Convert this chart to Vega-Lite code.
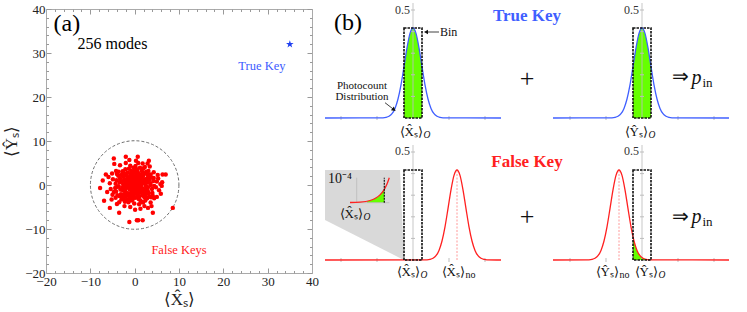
{
  "$schema": "https://vega.github.io/schema/vega-lite/v6.json",
  "background": "white",
  "padding": {"left": 2, "top": 2, "right": 0, "bottom": 0},
  "spacing": 13,
  "bounds": "flush",
  "config": {"view": {"stroke": null}, "text": {"font": "Liberation Serif"}, "axis": {"labelFont": "Liberation Serif", "titleFont": "Liberation Serif"}},
  "datasets": {
    "keys": [
      {"x":0.2,"y":0.3},{"x":-0.5,"y":0.8},{"x":1.1,"y":-0.4},{"x":-1.2,"y":-0.6},{"x":0.6,"y":1.2},{"x":-0.3,"y":-1.1},{"x":0.9,"y":0.7},{"x":-0.8,"y":0.1},{"x":0.1,"y":-0.5},{"x":1.3,"y":0.2},
      {"x":-0.1,"y":1.4},{"x":0.5,"y":-1.2},{"x":-1.4,"y":0.4},{"x":0,"y":0},{"x":0.7,"y":-0.2},{"x":-0.6,"y":-0.3},{"x":0.3,"y":0.9},{"x":-0.9,"y":1.0},{"x":1.0,"y":-1.0},{"x":-0.4,"y":0.5},
      {"x":0.4,"y":-0.8},{"x":-1.1,"y":-1.0},{"x":1.2,"y":1.0},{"x":-0.2,"y":-0.2},{"x":0.8,"y":0.3},{"x":-0.7,"y":-1.3},{"x":0.1,"y":1.0},{"x":-1.3,"y":0.9},{"x":1.4,"y":-0.6},{"x":0.6,"y":0.6},
      {"x":-0.5,"y":-0.7},{"x":0.2,"y":-1.4},{"x":-1.0,"y":0.6},{"x":1.0,"y":1.3},{"x":-0.3,"y":0.2},{"x":0.5,"y":0.1},{"x":-0.8,"y":-0.9},{"x":0.9,"y":-0.7},{"x":-0.1,"y":0.7},{"x":1.3,"y":-1.1},
      {"x":-1.2,"y":1.2},{"x":0.3,"y":-0.3},{"x":-0.6,"y":1.3},{"x":0.7,"y":1.0},{"x":-1.4,"y":-0.3},{"x":1.1,"y":0.5},{"x":-0.2,"y":-0.9},{"x":0,"y":1.2},{"x":0.4,"y":0.4},{"x":-0.9,"y":-0.1},
      {"x":2.0,"y":0.5},{"x":-2.1,"y":0.3},{"x":0.4,"y":2.2},{"x":-0.3,"y":-2.4},{"x":1.6,"y":1.6},{"x":-1.7,"y":1.5},{"x":1.8,"y":-1.4},{"x":-1.5,"y":-1.9},{"x":2.6,"y":-0.3},{"x":-2.7,"y":-0.5},
      {"x":0.8,"y":2.7},{"x":-0.9,"y":2.5},{"x":1.1,"y":-2.6},{"x":-1.0,"y":-2.8},{"x":2.3,"y":1.3},{"x":-2.4,"y":1.1},{"x":2.2,"y":-1.7},{"x":-2.0,"y":-1.6},{"x":0,"y":2.9},{"x":0.2,"y":-2.9},
      {"x":2.9,"y":0.6},{"x":-2.9,"y":0.8},{"x":1.9,"y":2.1},{"x":-1.8,"y":2.2},{"x":1.7,"y":-2.3},{"x":-2.2,"y":-2.0},{"x":2.5,"y":-1.0},{"x":-2.6,"y":-1.2},{"x":1.3,"y":2.4},{"x":-1.4,"y":-2.4},
      {"x":2.8,"y":1.5},{"x":-2.5,"y":1.8},{"x":2.0,"y":-2.4},{"x":-1.9,"y":-2.5},{"x":1.5,"y":0},{"x":-1.6,"y":0.1},{"x":0.6,"y":1.8},{"x":-0.7,"y":-1.7},{"x":1.9,"y":-0.8},{"x":-1.8,"y":-0.6},
      {"x":1.2,"y":1.9},{"x":-1.1,"y":1.8},{"x":0.9,"y":-1.8},{"x":-0.6,"y":2.0},{"x":2.4,"y":0.1},{"x":-2.3,"y":-0.2},{"x":1.6,"y":-1.0},{"x":-1.5,"y":1.0},{"x":0.3,"y":1.7},{"x":-0.2,"y":-1.8},
      {"x":2.1,"y":2.5},{"x":-2.8,"y":2.1},{"x":2.7,"y":-1.9},{"x":-2.7,"y":-2.2},{"x":0.5,"y":-2.1},{"x":-0.4,"y":2.6},{"x":1.4,"y":-1.6},{"x":-1.3,"y":1.6},{"x":2.2,"y":0.9},{"x":-2.1,"y":-0.9},
      {"x":1.0,"y":2.2},{"x":-1.2,"y":-2.1},{"x":2.5,"y":-2.6},{"x":-0.8,"y":-2.5},{"x":0.7,"y":-2.6},{"x":-2.3,"y":2.6},{"x":1.8,"y":2.8},{"x":-1.6,"y":2.8},{"x":2.9,"y":-1.2},{"x":-3.0,"y":-1.0},
      {"x":1.7,"y":0.7},{"x":-1.9,"y":0.7},{"x":0.1,"y":-1.6},{"x":-0.1,"y":2.0},{"x":2.6,"y":0.9},{"x":-2.6,"y":0.2},{"x":1.1,"y":-1.4},{"x":-1.0,"y":1.4},{"x":0.8,"y":-1.5},{"x":-0.5,"y":1.6},
      {"x":3.5,"y":0.4},{"x":-3.4,"y":0.6},{"x":0.5,"y":3.6},{"x":-0.6,"y":-3.5},{"x":3.1,"y":2.0},{"x":-3.0,"y":2.3},{"x":3.2,"y":-1.8},{"x":-3.1,"y":-2.1},{"x":3.9,"y":-0.9},{"x":-3.8,"y":-0.4},
      {"x":1.2,"y":3.9},{"x":-1.3,"y":3.7},{"x":1.5,"y":-3.8},{"x":-1.4,"y":-3.9},{"x":2.6,"y":3.0},{"x":-2.7,"y":3.1},{"x":2.8,"y":-3.0},{"x":-2.6,"y":-3.2},{"x":4.2,"y":0.9},{"x":-4.1,"y":1.1},
      {"x":0.2,"y":4.3},{"x":-0.1,"y":-4.2},{"x":3.6,"y":2.4},{"x":-3.7,"y":2.1},{"x":3.4,"y":-2.6},{"x":-3.5,"y":-2.5},{"x":4.0,"y":-1.8},{"x":-4.2,"y":-1.5},{"x":2.0,"y":3.8},{"x":-2.1,"y":3.6},
      {"x":1.9,"y":-4.0},{"x":-2.2,"y":-3.8},{"x":3.3,"y":1.2},{"x":-3.3,"y":1.4},{"x":3.0,"y":-0.5},{"x":-3.2,"y":-1.0},{"x":0.9,"y":-3.2},{"x":-0.8,"y":3.2},{"x":2.4,"y":-3.5},{"x":-2.5,"y":2.6},
      {"x":4.4,"y":-0.2},{"x":-4.3,"y":0.3},{"x":1.0,"y":-4.4},{"x":-1.0,"y":4.4},{"x":3.8,"y":1.7},{"x":-3.9,"y":-2.3},{"x":3.1,"y":3.2},{"x":-3.0,"y":-3.3},{"x":0.6,"y":3.1},{"x":-0.4,"y":-3.1},
      {"x":2.2,"y":-2.8},{"x":-2.4,"y":-2.9},{"x":3.7,"y":-2.8},{"x":-3.6,"y":3.0},{"x":1.6,"y":3.3},{"x":-1.7,"y":-3.3},{"x":4.3,"y":1.6},{"x":-4.4,"y":-0.7},{"x":2.9,"y":2.4},{"x":-2.9,"y":-2.6},
      {"x":0,"y":3.4},{"x":-0.3,"y":3.9},{"x":3.6,"y":0},{"x":-3.6,"y":-0.3},{"x":2.5,"y":-2.2},{"x":-1.1,"y":-3.4},{"x":1.3,"y":-3.5},{"x":4.1,"y":-2.5},{"x":-4.0,"y":2.5},{"x":2.3,"y":4.1},
      {"x":5.0,"y":0.8},{"x":-4.9,"y":1.3},{"x":0.8,"y":5.0},{"x":-1.0,"y":-5.0},{"x":4.3,"y":2.9},{"x":-4.2,"y":3.2},{"x":4.4,"y":-3.0},{"x":-4.3,"y":-2.9},{"x":5.5,"y":-1.2},{"x":-5.4,"y":-0.9},
      {"x":1.8,"y":4.9},{"x":-2.0,"y":5.0},{"x":2.2,"y":-4.8},{"x":-2.3,"y":-4.8},{"x":3.4,"y":4.2},{"x":-3.3,"y":4.5},{"x":3.6,"y":-4.0},{"x":-3.5,"y":-3.9},{"x":5.8,"y":0.2},{"x":-5.6,"y":0.4},
      {"x":0.3,"y":5.5},{"x":0.1,"y":-5.6},{"x":5.2,"y":2.3},{"x":-5.1,"y":2.6},{"x":5.0,"y":-2.7},{"x":-5.0,"y":-2.2},{"x":-4.0,"y":-4.3},{"x":2.9,"y":4.9},{"x":-1.2,"y":5.7},{"x":1.3,"y":-5.4},
      {"x":4.8,"y":-0.5},{"x":-4.7,"y":-1.6},{"x":5.3,"y":1.5},{"x":-5.2,"y":-3.3},{"x":3.0,"y":-5.2},
      {"x":-7.8,"y":-0.7},{"x":-6.9,"y":-3.6},{"x":-5.6,"y":-5.2},{"x":-3.5,"y":-6.3},{"x":-1.2,"y":-8.4},{"x":0.5,"y":-8.0},{"x":0.8,"y":-8.0},{"x":1.8,"y":-8.0},{"x":8.6,"y":-5.2},{"x":7.0,"y":2.4},
      {"x":-6.5,"y":2.4},{"x":-4.7,"y":6.0},{"x":-2.0,"y":6.4},{"x":0.7,"y":6.4},{"x":3.2,"y":5.5},{"x":3.8,"y":-4.8},{"x":4.1,"y":-6.3},{"x":6.1,"y":-0.2},{"x":6.2,"y":0.6},{"x":-7.2,"y":1.0},
      {"x":-6.2,"y":-1.6},{"x":-5.9,"y":1.8},{"x":6.3,"y":2.4},{"x":5.9,"y":-2.0},{"x":-4.6,"y":4.8}
    ],
    "curves": [
      {"c":"TL","key":"True","x":0,"y":173},{"c":"TL","key":"True","x":58,"y":173.2},{"c":"TL","key":"True","x":61,"y":173.6},{"c":"TL","key":"True","x":64,"y":174.7},{"c":"TL","key":"True","x":67,"y":177.3},{"c":"TL","key":"True","x":70,"y":182.6},{"c":"TL","key":"True","x":73,"y":192.0},{"c":"TL","key":"True","x":76,"y":206.2},{"c":"TL","key":"True","x":79,"y":224.4},{"c":"TL","key":"True","x":82,"y":243.2},{"c":"TL","key":"True","x":85,"y":257.6},{"c":"TL","key":"True","x":88,"y":263},{"c":"TL","key":"True","x":91,"y":257.6},{"c":"TL","key":"True","x":94,"y":243.2},{"c":"TL","key":"True","x":97,"y":224.4},{"c":"TL","key":"True","x":100,"y":206.2},{"c":"TL","key":"True","x":103,"y":192.0},{"c":"TL","key":"True","x":106,"y":182.6},{"c":"TL","key":"True","x":109,"y":177.3},{"c":"TL","key":"True","x":112,"y":174.7},{"c":"TL","key":"True","x":115,"y":173.6},{"c":"TL","key":"True","x":118,"y":173.2},{"c":"TL","key":"True","x":176,"y":173},
      {"c":"TR","key":"True","x":228,"y":173},{"c":"TR","key":"True","x":287,"y":173.2},{"c":"TR","key":"True","x":290,"y":173.6},{"c":"TR","key":"True","x":293,"y":174.7},{"c":"TR","key":"True","x":296,"y":177.3},{"c":"TR","key":"True","x":299,"y":182.6},{"c":"TR","key":"True","x":302,"y":192.0},{"c":"TR","key":"True","x":305,"y":206.2},{"c":"TR","key":"True","x":308,"y":224.4},{"c":"TR","key":"True","x":311,"y":243.2},{"c":"TR","key":"True","x":314,"y":257.6},{"c":"TR","key":"True","x":317,"y":263},{"c":"TR","key":"True","x":320,"y":257.6},{"c":"TR","key":"True","x":323,"y":243.2},{"c":"TR","key":"True","x":326,"y":224.4},{"c":"TR","key":"True","x":329,"y":206.2},{"c":"TR","key":"True","x":332,"y":192.0},{"c":"TR","key":"True","x":335,"y":182.6},{"c":"TR","key":"True","x":338,"y":177.3},{"c":"TR","key":"True","x":341,"y":174.7},{"c":"TR","key":"True","x":344,"y":173.6},{"c":"TR","key":"True","x":347,"y":173.2},{"c":"TR","key":"True","x":404,"y":173},
      {"c":"BL","key":"False","x":0,"y":31},{"c":"BL","key":"False","x":102,"y":31.2},{"c":"BL","key":"False","x":105,"y":31.6},{"c":"BL","key":"False","x":108,"y":32.7},{"c":"BL","key":"False","x":111,"y":35.3},{"c":"BL","key":"False","x":114,"y":40.6},{"c":"BL","key":"False","x":117,"y":50.0},{"c":"BL","key":"False","x":120,"y":64.2},{"c":"BL","key":"False","x":123,"y":82.4},{"c":"BL","key":"False","x":126,"y":101.2},{"c":"BL","key":"False","x":129,"y":115.6},{"c":"BL","key":"False","x":132,"y":121},{"c":"BL","key":"False","x":135,"y":115.6},{"c":"BL","key":"False","x":138,"y":101.2},{"c":"BL","key":"False","x":141,"y":82.4},{"c":"BL","key":"False","x":144,"y":64.2},{"c":"BL","key":"False","x":147,"y":50.0},{"c":"BL","key":"False","x":150,"y":40.6},{"c":"BL","key":"False","x":153,"y":35.3},{"c":"BL","key":"False","x":156,"y":32.7},{"c":"BL","key":"False","x":159,"y":31.6},{"c":"BL","key":"False","x":162,"y":31.2},{"c":"BL","key":"False","x":176,"y":31},
      {"c":"BR","key":"False","x":228,"y":31},{"c":"BR","key":"False","x":264,"y":31.2},{"c":"BR","key":"False","x":267,"y":31.6},{"c":"BR","key":"False","x":270,"y":32.7},{"c":"BR","key":"False","x":273,"y":35.3},{"c":"BR","key":"False","x":276,"y":40.6},{"c":"BR","key":"False","x":279,"y":50.0},{"c":"BR","key":"False","x":282,"y":64.2},{"c":"BR","key":"False","x":285,"y":82.4},{"c":"BR","key":"False","x":288,"y":101.2},{"c":"BR","key":"False","x":291,"y":115.6},{"c":"BR","key":"False","x":294,"y":121},{"c":"BR","key":"False","x":297,"y":115.6},{"c":"BR","key":"False","x":300,"y":101.2},{"c":"BR","key":"False","x":303,"y":82.4},{"c":"BR","key":"False","x":306,"y":64.2},{"c":"BR","key":"False","x":309,"y":50.0},{"c":"BR","key":"False","x":312,"y":40.6},{"c":"BR","key":"False","x":315,"y":35.3},{"c":"BR","key":"False","x":318,"y":32.7},{"c":"BR","key":"False","x":321,"y":31.6},{"c":"BR","key":"False","x":324,"y":31.2},{"c":"BR","key":"False","x":404,"y":31},
      {"c":"IN","key":"False","x":25,"y":88.5},{"c":"IN","key":"False","x":35,"y":88.9},{"c":"IN","key":"False","x":45,"y":90.5},{"c":"IN","key":"False","x":50,"y":92.5},{"c":"IN","key":"False","x":55,"y":96.1},{"c":"IN","key":"False","x":59.3,"y":101.7},{"c":"IN","key":"False","x":62,"y":107.0},{"c":"IN","key":"False","x":64.3,"y":113.3}
    ],
    "green": [
      {"g":"TL","x":79,"y":224.4,"y2":173},{"g":"TL","x":82,"y":243.2,"y2":173},{"g":"TL","x":85,"y":257.6,"y2":173},{"g":"TL","x":88,"y":263,"y2":173},{"g":"TL","x":91,"y":257.6,"y2":173},{"g":"TL","x":94,"y":243.2,"y2":173},{"g":"TL","x":97,"y":224.4,"y2":173},
      {"g":"TR","x":308,"y":224.4,"y2":173},{"g":"TR","x":311,"y":243.2,"y2":173},{"g":"TR","x":314,"y":257.6,"y2":173},{"g":"TR","x":317,"y":263,"y2":173},{"g":"TR","x":320,"y":257.6,"y2":173},{"g":"TR","x":323,"y":243.2,"y2":173},{"g":"TR","x":326,"y":224.4,"y2":173},
      {"g":"BR","x":308,"y":54.2,"y2":31},{"g":"BR","x":309,"y":50.0,"y2":31},{"g":"BR","x":312,"y":40.6,"y2":31},{"g":"BR","x":315,"y":35.3,"y2":31},{"g":"BR","x":318,"y":32.7,"y2":31},{"g":"BR","x":321,"y":31.6,"y2":31},{"g":"BR","x":324,"y":31.2,"y2":31},{"g":"BR","x":326,"y":31.1,"y2":31},
      {"g":"IN","x":42,"y":89.8,"y2":88.3},{"g":"IN","x":45,"y":90.5,"y2":88.3},{"g":"IN","x":50,"y":92.5,"y2":88.3},{"g":"IN","x":55,"y":96.1,"y2":88.3},{"g":"IN","x":59.3,"y":101.7,"y2":88.3}
    ],
    "axes": [
      {"x":88,"x2":88,"y":173,"y2":288},{"x":317,"x2":317,"y":173,"y2":288},{"x":88,"x2":88,"y":31,"y2":146},{"x":317,"x2":317,"y":31,"y2":146},
      {"x":25,"x2":64.3,"y":88.3,"y2":88.3},{"x":31.7,"x2":31.7,"y":88.3,"y2":113.3}
    ],
    "bticks": [
      {"x":16,"y":173},{"x":52,"y":173},{"x":124,"y":173},{"x":160,"y":173},{"x":245,"y":173},{"x":281,"y":173},{"x":353,"y":173},{"x":389,"y":173},
      {"x":16,"y":31},{"x":52,"y":31},{"x":124,"y":31},{"x":160,"y":31},{"x":245,"y":31},{"x":281,"y":31},{"x":353,"y":31},{"x":389,"y":31}
    ],
    "vticks": [
      {"x":88,"y":194.6},{"x":88,"y":216.2},{"x":88,"y":237.8},{"x":88,"y":259.4},{"x":88,"y":281},
      {"x":317,"y":194.6},{"x":317,"y":216.2},{"x":317,"y":237.8},{"x":317,"y":259.4},{"x":317,"y":281},
      {"x":88,"y":52.6},{"x":88,"y":74.2},{"x":88,"y":95.8},{"x":88,"y":117.4},{"x":88,"y":139},
      {"x":317,"y":52.6},{"x":317,"y":74.2},{"x":317,"y":95.8},{"x":317,"y":117.4},{"x":317,"y":139}
    ],
    "bins": [
      {"x":79,"x2":97,"y":173,"y2":263},{"x":308,"x2":326,"y":173,"y2":263},{"x":79,"x2":97,"y":31,"y2":121},{"x":308,"x2":326,"y":31,"y2":121}
    ]
  },
  "hconcat": [
    {
      "width": 266,
      "height": 264,
      "layer": [
        {
          "data": {"values": [{"x": 0, "y": 0}]},
          "mark": {"type": "point", "shape": "circle", "size": 7830, "filled": false, "color": "#6e6e6e", "strokeWidth": 1, "strokeDash": [3, 2], "opacity": 1},
          "encoding": {
            "x": {"field": "x", "type": "quantitative", "scale": {"domain": [-20, 40], "nice": false, "zero": false},
              "axis": {"orient": "bottom", "values": [-20, -10, 0, 10, 20, 30, 40], "tickSize": -5, "tickColor": "#999999", "domain": true, "domainColor": "#aaaaaa", "grid": false, "labelFontSize": 13, "labelColor": "#222222", "labelPadding": 7, "labelOverlap": false, "labelFlush": false, "labelBound": false, "title": "⟨X̂ₛ⟩", "titleFontSize": 17, "titleFontWeight": "normal", "titleColor": "#222222", "titlePadding": 3}},
            "y": {"field": "y", "type": "quantitative", "scale": {"domain": [-20, 40], "nice": false, "zero": false},
              "axis": {"orient": "left", "values": [-20, -10, 0, 10, 20, 30, 40], "tickSize": -5, "tickColor": "#999999", "domain": true, "domainColor": "#aaaaaa", "grid": false, "labelFontSize": 13, "labelColor": "#222222", "labelPadding": 6, "labelOverlap": false, "labelFlush": false, "labelBound": false, "title": "⟨Ŷₛ⟩", "titleFontSize": 17, "titleFontWeight": "normal", "titleColor": "#222222", "titlePadding": 4}}
          }
        },
        {
          "data": {"name": "keys"},
          "mark": {"type": "circle", "size": 20, "color": "#ff0000", "opacity": 1},
          "encoding": {
            "x": {"field": "x", "type": "quantitative", "scale": {"domain": [-20, 40], "nice": false, "zero": false},
              "axis": {"orient": "bottom", "values": [-18,-16,-14,-12,-8,-6,-4,-2,2,4,6,8,12,14,16,18,22,24,26,28,32,34,36,38], "tickSize": -2.5, "tickColor": "#999999", "domain": false, "labels": false, "grid": false, "title": null}},
            "y": {"field": "y", "type": "quantitative", "scale": {"domain": [-20, 40], "nice": false, "zero": false},
              "axis": {"orient": "left", "values": [-18,-16,-14,-12,-8,-6,-4,-2,2,4,6,8,12,14,16,18,22,24,26,28,32,34,36,38], "tickSize": -2.5, "tickColor": "#999999", "domain": false, "labels": false, "grid": false, "title": null}}
          }
        },
        {
          "data": {"values": [{"x": 35, "y": 32}]},
          "mark": {"type": "point", "shape": "M0,-1L0.235,-0.324L0.951,-0.309L0.38,0.124L0.588,0.809L0,0.4L-0.588,0.809L-0.38,0.124L-0.951,-0.309L-0.235,-0.324Z", "size": 64, "filled": true, "color": "#2040f0", "opacity": 1},
          "encoding": {
            "x": {"field": "x", "type": "quantitative", "scale": {"domain": [-20, 40], "nice": false, "zero": false},
              "axis": {"orient": "top", "values": [-20, -10, 0, 10, 20, 30, 40], "tickSize": -5, "tickColor": "#999999", "domain": true, "domainColor": "#aaaaaa", "labels": false, "grid": false, "title": null}},
            "y": {"field": "y", "type": "quantitative", "scale": {"domain": [-20, 40], "nice": false, "zero": false},
              "axis": {"orient": "right", "values": [-20, -10, 0, 10, 20, 30, 40], "tickSize": -5, "tickColor": "#999999", "domain": true, "domainColor": "#aaaaaa", "labels": false, "grid": false, "title": null}}
          }
        },
        {
          "data": {"values": [{"x": -15.3, "y": 36.6, "t": "(a)"}]},
          "mark": {"type": "text", "fontSize": 24, "font": "Liberation Serif", "color": "#000000"},
          "encoding": {
            "x": {"field": "x", "type": "quantitative", "scale": {"domain": [-20, 40], "nice": false, "zero": false},
              "axis": {"orient": "top", "values": [-18,-16,-14,-12,-8,-6,-4,-2,2,4,6,8,12,14,16,18,22,24,26,28,32,34,36,38], "tickSize": -2.5, "tickColor": "#999999", "domain": false, "labels": false, "grid": false, "title": null}},
            "y": {"field": "y", "type": "quantitative", "scale": {"domain": [-20, 40], "nice": false, "zero": false},
              "axis": {"orient": "right", "values": [-18,-16,-14,-12,-8,-6,-4,-2,2,4,6,8,12,14,16,18,22,24,26,28,32,34,36,38], "tickSize": -2.5, "tickColor": "#999999", "domain": false, "labels": false, "grid": false, "title": null}},
            "text": {"field": "t"}
          }
        },
        {
          "data": {"values": [{"x": -5.0, "y": 32.0, "t": "256 modes"}]},
          "mark": {"type": "text", "fontSize": 16, "font": "Liberation Serif", "color": "#000000"},
          "encoding": {
            "x": {"field": "x", "type": "quantitative", "scale": {"domain": [-20, 40], "nice": false, "zero": false}, "axis": null},
            "y": {"field": "y", "type": "quantitative", "scale": {"domain": [-20, 40], "nice": false, "zero": false}, "axis": null},
            "text": {"field": "t"}
          }
        },
        {
          "data": {"values": [{"x": 28.7, "y": 27.0, "t": "True Key"}]},
          "mark": {"type": "text", "fontSize": 12.5, "font": "Liberation Serif", "color": "#3b5bff"},
          "encoding": {
            "x": {"field": "x", "type": "quantitative", "scale": {"domain": [-20, 40], "nice": false, "zero": false}, "axis": null},
            "y": {"field": "y", "type": "quantitative", "scale": {"domain": [-20, 40], "nice": false, "zero": false}, "axis": null},
            "text": {"field": "t"}
          }
        },
        {
          "data": {"values": [{"x": 10.0, "y": -14.8, "t": "False Keys"}]},
          "mark": {"type": "text", "fontSize": 12.5, "font": "Liberation Serif", "color": "#ff1a1a"},
          "encoding": {
            "x": {"field": "x", "type": "quantitative", "scale": {"domain": [-20, 40], "nice": false, "zero": false}, "axis": null},
            "y": {"field": "y", "type": "quantitative", "scale": {"domain": [-20, 40], "nice": false, "zero": false}, "axis": null},
            "text": {"field": "t"}
          }
        }
      ],
      "resolve": {"axis": {"x": "independent", "y": "independent"}}
    },
    {
      "width": 410,
      "height": 282,
      "encoding": {
        "x": {"field": "x", "type": "quantitative", "scale": {"domain": [0, 410], "nice": false, "zero": false}, "axis": null},
        "y": {"field": "y", "type": "quantitative", "scale": {"domain": [0, 282], "nice": false, "zero": false}, "axis": null}
      },
      "layer": [
        {
          "data": {"values": [{"x": 0, "y": 121, "y2": 71}, {"x": 75, "y": 121, "y2": 33}, {"x": 79, "y": 31, "y2": 31}]},
          "mark": {"type": "area", "color": "#d9d9d9", "opacity": 1, "interpolate": "linear"},
          "encoding": {"y2": {"field": "y2"}}
        },
        {
          "data": {"name": "green"},
          "mark": {"type": "area", "color": "#66ff00", "opacity": 1, "interpolate": "monotone"},
          "encoding": {"y2": {"field": "y2"}, "detail": {"field": "g"}}
        },
        {
          "data": {"name": "axes"},
          "mark": {"type": "rule", "color": "#bdbdbd", "strokeWidth": 1, "opacity": 0.85},
          "encoding": {"x2": {"field": "x2"}, "y2": {"field": "y2"}}
        },
        {
          "data": {"name": "bticks"},
          "mark": {"type": "tick", "orient": "vertical", "size": 4, "thickness": 1, "color": "#bdbdbd", "opacity": 1}
        },
        {
          "data": {"name": "vticks"},
          "mark": {"type": "tick", "orient": "horizontal", "size": 4, "thickness": 1, "color": "#bdbdbd", "opacity": 1}
        },
        {
          "data": {"values": [{"x": 132, "x2": 132, "y": 31, "y2": 121}, {"x": 294, "x2": 294, "y": 31, "y2": 121}]},
          "mark": {"type": "rule", "color": "#ff8080", "strokeWidth": 0.8, "strokeDash": [2, 1.5]},
          "encoding": {"x2": {"field": "x2"}, "y2": {"field": "y2"}}
        },
        {
          "data": {"name": "curves"},
          "mark": {"type": "line", "interpolate": "monotone", "strokeWidth": 1.3},
          "encoding": {
            "color": {"field": "key", "type": "nominal", "scale": {"domain": ["True", "False"], "range": ["#3f5fff", "#ff2020"]}, "legend": null},
            "detail": {"field": "c"}
          }
        },
        {
          "data": {"name": "bins"},
          "mark": {"type": "rect", "filled": false, "color": "#111111", "strokeWidth": 1.6, "strokeDash": [2.5, 1]},
          "encoding": {"x2": {"field": "x2"}, "y2": {"field": "y2"}}
        },
        {
          "data": {"values": [{"x": 59.3, "x2": 59.3, "y": 88.3, "y2": 113.3}]},
          "mark": {"type": "rule", "color": "#111111", "strokeWidth": 1.2, "strokeDash": [2, 1]},
          "encoding": {"x2": {"field": "x2"}, "y2": {"field": "y2"}}
        },
        {
          "data": {"values": [{"x": 101, "x2": 114, "y": 259, "y2": 259}, {"x": 60, "x2": 69, "y": 188.3, "y2": 181.3}]},
          "mark": {"type": "rule", "color": "#111111", "strokeWidth": 0.8},
          "encoding": {"x2": {"field": "x2"}, "y2": {"field": "y2"}}
        },
        {
          "data": {"values": [{"x": 101, "y": 259}]},
          "mark": {"type": "point", "shape": "triangle-left", "size": 22, "filled": true, "color": "#111111", "opacity": 1}
        },
        {
          "data": {"values": [{"x": 69, "y": 181.3}]},
          "mark": {"type": "point", "shape": "triangle-right", "size": 22, "filled": true, "color": "#111111", "opacity": 1, "angle": 38}
        },
        {
          "data": {"values": [{"x": 37, "y": 205.5, "t": "Photocount"}, {"x": 37, "y": 194, "t": "Distribution"}]},
          "mark": {"type": "text", "fontSize": 11, "font": "Liberation Serif", "color": "#111111"},
          "encoding": {"text": {"field": "t"}}
        },
        {
          "data": {"values": [{"x": 15, "y": 112, "t": "10⁻⁴"}]},
          "mark": {"type": "text", "fontSize": 14, "font": "Liberation Serif", "color": "#111111"},
          "encoding": {"text": {"field": "t"}}
        },
        {
          "data": {"values": [{"x": 115, "y": 259, "t": "Bin"}]},
          "mark": {"type": "text", "fontSize": 12, "font": "Liberation Serif", "color": "#111111", "align": "left"},
          "encoding": {"text": {"field": "t"}}
        },
        {
          "data": {"values": [{"x": 85, "y": 281, "t": "0.5"}, {"x": 314, "y": 281, "t": "0.5"}, {"x": 85, "y": 140, "t": "0.5"}, {"x": 314, "y": 140, "t": "0.5"}]},
          "mark": {"type": "text", "fontSize": 12, "font": "Liberation Serif", "color": "#333333", "align": "right"},
          "encoding": {"text": {"field": "t"}}
        },
        {
          "data": {"values": [{"x": 98, "y": 159, "t": "⟨X̂ₛ⟩"}, {"x": 323, "y": 159, "t": "⟨Ŷₛ⟩"}, {"x": 95, "y": 19, "t": "⟨X̂ₛ⟩"}, {"x": 140, "y": 19, "t": "⟨X̂ₛ⟩"}, {"x": 294, "y": 19, "t": "⟨Ŷₛ⟩"}, {"x": 333, "y": 19, "t": "⟨Ŷₛ⟩"}, {"x": 38, "y": 77, "t": "⟨X̂ₛ⟩"}]},
          "mark": {"type": "text", "fontSize": 13, "font": "Liberation Serif", "color": "#111111", "align": "right"},
          "encoding": {"text": {"field": "t"}}
        },
        {
          "data": {"values": [{"x": 98.5, "y": 156, "t": "O"}, {"x": 323.5, "y": 156, "t": "O"}, {"x": 95.5, "y": 16, "t": "O"}, {"x": 333.5, "y": 16, "t": "O"}, {"x": 38.5, "y": 74, "t": "O"}]},
          "mark": {"type": "text", "fontSize": 9.5, "font": "Liberation Serif", "fontStyle": "italic", "color": "#111111", "align": "left"},
          "encoding": {"text": {"field": "t"}}
        },
        {
          "data": {"values": [{"x": 140.5, "y": 16, "t": "no"}, {"x": 294.5, "y": 16, "t": "no"}]},
          "mark": {"type": "text", "fontSize": 10, "font": "Liberation Serif", "color": "#111111", "align": "left"},
          "encoding": {"text": {"field": "t"}}
        },
        {
          "data": {"values": [{"x": 202, "y": 275, "t": "True Key", "key": "True"}, {"x": 202, "y": 129, "t": "False Key", "key": "False"}]},
          "mark": {"type": "text", "fontSize": 17, "font": "Liberation Serif", "fontWeight": "bold"},
          "encoding": {
            "text": {"field": "t"},
            "color": {"field": "key", "type": "nominal", "scale": {"domain": ["True", "False"], "range": ["#3f5fff", "#ff2020"]}, "legend": null}
          }
        },
        {
          "data": {"values": [{"x": 202, "y": 212, "t": "+"}, {"x": 202, "y": 74, "t": "+"}]},
          "mark": {"type": "text", "fontSize": 26, "font": "Liberation Serif", "color": "#111111"},
          "encoding": {"text": {"field": "t"}}
        },
        {
          "data": {"values": [{"x": 355, "y": 214, "t": "⇒"}, {"x": 355, "y": 74.3, "t": "⇒"}]},
          "mark": {"type": "text", "fontSize": 20, "font": "Liberation Serif", "color": "#111111"},
          "encoding": {"text": {"field": "t"}}
        },
        {
          "data": {"values": [{"x": 371.5, "y": 207.3, "t": "p"}, {"x": 371.5, "y": 67.6, "t": "p"}]},
          "mark": {"type": "text", "fontSize": 20, "font": "Liberation Serif", "fontStyle": "italic", "color": "#111111", "baseline": "alphabetic"},
          "encoding": {"text": {"field": "t"}}
        },
        {
          "data": {"values": [{"x": 377.5, "y": 204.5, "t": "in"}, {"x": 377.5, "y": 64.8, "t": "in"}]},
          "mark": {"type": "text", "fontSize": 13, "font": "Liberation Serif", "color": "#111111", "baseline": "alphabetic", "align": "left"},
          "encoding": {"text": {"field": "t"}}
        },
        {
          "data": {"values": [{"x": 23, "y": 268, "t": "(b)"}]},
          "mark": {"type": "text", "fontSize": 24, "font": "Liberation Serif", "color": "#000000"},
          "encoding": {"text": {"field": "t"}}
        }
      ]
    }
  ]
}
